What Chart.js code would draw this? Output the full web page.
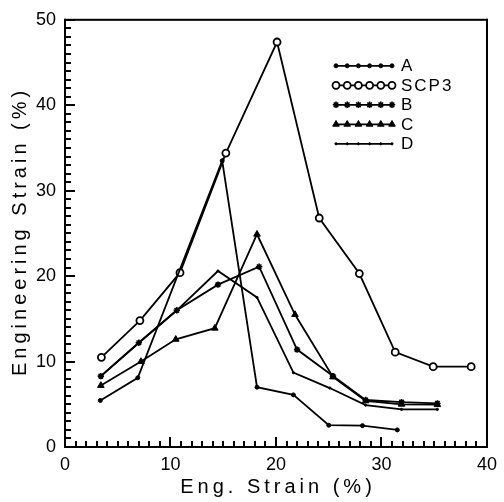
<!DOCTYPE html>
<html><head><meta charset="utf-8">
<style>html,body{margin:0;padding:0;background:#fff;}</style>
<script src="https://cdn.jsdelivr.net/npm/chart.js@4.4.1/dist/chart.umd.min.js"></script>
</head><body>
<canvas id="c" width="504" height="502"></canvas>
<script>
// ---- data ----
const seriesNames = ['A', 'SCP3', 'B', 'C', 'D'];

const aX = [3.35, 6.9, 14.9, 18.2, 21.65, 25.0, 28.2, 31.5];
const aY = [5.45, 8.1, 33.5, 7.0, 6.1, 2.55, 2.5, 2.0];

const scpX = [3.45, 7.1, 10.9, 15.25, 20.1, 24.1, 27.9, 31.3, 34.9, 38.5];
const scpY = [10.5, 14.8, 20.4, 34.4, 47.4, 26.8, 20.3, 11.1, 9.4, 9.4];

const bX = [3.4, 7.0, 10.6, 14.5, 18.4, 22.0, 25.4, 28.5, 31.9, 35.3];
const bY = [8.3, 12.2, 16.0, 19.0, 21.1, 11.4, 8.3, 5.5, 5.25, 5.1];

const cX = [3.4, 7.2, 10.5, 14.2, 18.2, 21.8, 25.4, 28.5, 31.9, 35.3];
const cY = [7.2, 10.0, 12.6, 13.9, 24.9, 15.5, 8.2, 5.4, 5.0, 4.95];

const dX = [3.4, 7.0, 10.6, 14.5, 18.2, 21.65, 25.1, 28.5, 31.9, 35.3];
const dY = [8.3, 12.2, 16.0, 20.6, 17.5, 8.7, 6.9, 4.9, 4.4, 4.4];

const xTickLabels = [0, 10, 20, 30, 40];
const yTickLabels = [0, 10, 20, 30, 40, 50];
const xRange = [0, 40];
const yRange = [0, 50];
const xTitle = 'Eng. Strain (%)';
const yTitle = 'Engineering Strain (%)';

const toPoints = (px, py) => px.map((x, i) => ({x: x, y: py[i]}));
const FONT = '"Liberation Sans", Arial, sans-serif';

const markerStyles = [
  {pointStyle: 'circle', pointRadius: 2, pointBackgroundColor: '#000', pointBorderWidth: 1},
  {pointStyle: 'circle', pointRadius: 3.5, pointBackgroundColor: '#fff', pointBorderWidth: 1.8},
  {pointStyle: 'star', pointRadius: 3.2, pointBackgroundColor: '#000', pointBorderWidth: 1.6},
  {pointStyle: 'triangle', pointRadius: 3.8, pointBackgroundColor: '#000', pointBorderWidth: 1},
  {pointStyle: 'circle', pointRadius: 1.1, pointBackgroundColor: '#000', pointBorderWidth: 1}
];
const seriesPoints = [toPoints(aX, aY), toPoints(scpX, scpY), toPoints(bX, bY), toPoints(cX, cY), toPoints(dX, dY)];

const chartDatasets = seriesNames.map((n, i) => Object.assign({
  label: n,
  data: seriesPoints[i],
  showLine: true,
  borderColor: '#000',
  borderWidth: 1.8,
  pointBorderColor: '#000',
  tension: 0
}, markerStyles[i]));

function pixelOf(scale, v, lo, hi, start, end) {
  let p = scale.getPixelForValue(v);
  if (!isFinite(p)) p = start + (v - lo) / (hi - lo) * (end - start);
  return Math.round(p);
}

const axesPlugin = {
  id: 'axesFrame',
  afterDraw(chart) {
    const ctx = chart.ctx, a = chart.chartArea, sx = chart.scales.x, sy = chart.scales.y;
    ctx.save();
    ctx.globalAlpha = 1;
    ctx.globalCompositeOperation = 'source-over';
    ctx.fillStyle = '#000';
    // inward tick marks, one per unit, longer at the labelled values
    for (let v = xRange[0]; v <= xRange[1]; v++) {
      const px = pixelOf(sx, v, xRange[0], xRange[1], a.left, a.right);
      const tl = (v % 10 === 0) ? 10 : 6;
      ctx.fillRect(px - 1, a.bottom - tl, 2, tl);
    }
    for (let v = yRange[0]; v <= yRange[1]; v++) {
      const py = pixelOf(sy, v, yRange[0], yRange[1], a.bottom, a.top);
      const tl = (v % 10 === 0) ? 10 : 6;
      ctx.fillRect(a.left, py - 1, tl, 2);
    }
    // box
    ctx.fillRect(a.left - 1, a.top - 1, a.right - a.left + 2, 2);
    ctx.fillRect(a.left - 1, a.bottom - 1, a.right - a.left + 2, 2);
    ctx.fillRect(a.left - 1, a.top - 1, 2, a.bottom - a.top + 2);
    ctx.fillRect(a.right - 1, a.top - 1, 2, a.bottom - a.top + 2);
    ctx.restore();

    // axis titles (letter-spaced like the original)
    ctx.save();
    ctx.fillStyle = '#000';
    ctx.font = '20px ' + FONT;
    ctx.letterSpacing = '4px';
    ctx.textAlign = 'center';
    ctx.textBaseline = 'middle';
    ctx.fillText(xTitle, (a.left + a.right) / 2 + 2, 487);
    ctx.translate(20, (a.top + a.bottom) / 2);
    ctx.rotate(-Math.PI / 2);
    ctx.fillText(yTitle, 2, 0);
    ctx.restore();
  }
};

function drawMarker(ctx, st, x, y) {
  const opts = {pointStyle: st.pointStyle, radius: st.pointRadius, rotation: 0, borderWidth: st.pointBorderWidth};
  ctx.fillStyle = st.pointBackgroundColor;
  ctx.strokeStyle = '#000';
  ctx.lineWidth = st.pointBorderWidth;
  if (Chart.helpers && Chart.helpers.drawPoint) {
    Chart.helpers.drawPoint(ctx, opts, x, y);
  } else {
    ctx.beginPath(); ctx.arc(x, y, st.pointRadius, 0, Math.PI * 2); ctx.fill(); ctx.stroke();
  }
}

const legendPlugin = {
  id: 'innerLegend',
  afterDraw(chart) {
    const ctx = chart.ctx, a = chart.chartArea;
    const x0 = a.left + 271, x1 = x0 + 56, tx = x0 + 65;
    ctx.save();
    ctx.letterSpacing = '2px';
    seriesNames.forEach((n, i) => {
      const y = a.top + 46 + i * 19.5;
      ctx.strokeStyle = '#000';
      ctx.lineWidth = 1.8;
      ctx.beginPath(); ctx.moveTo(x0, y); ctx.lineTo(x1, y); ctx.stroke();
      for (let k = 0; k <= 5; k++) drawMarker(ctx, markerStyles[i], x0 + k * (x1 - x0) / 5, y);
      ctx.fillStyle = '#000';
      ctx.font = '17px ' + FONT;
      ctx.textBaseline = 'middle';
      ctx.textAlign = 'left';
      ctx.fillText(n, tx, y + 1);
    });
    ctx.restore();
  }
};

new Chart(document.getElementById('c'), {
  type: 'scatter',
  data: {datasets: chartDatasets},
  plugins: [axesPlugin, legendPlugin],
  options: {
    responsive: false,
    animation: false,
    devicePixelRatio: 1,
    layout: {padding: {top: 14, right: 11, left: 0, bottom: 0}},
    plugins: {legend: {display: false}, tooltip: {enabled: false}},
    scales: {
      x: {
        type: 'linear', min: xRange[0], max: xRange[1], position: 'bottom',
        afterFit: s => { s.height = 55; },
        afterBuildTicks: s => { s.ticks = xTickLabels.map(v => ({value: v})); },
        grid: {display: false, drawTicks: false},
        border: {display: false},
        ticks: {padding: 7, color: '#000', font: {family: FONT, size: 18}, maxRotation: 0, autoSkip: false},
        title: {display: false, text: xTitle}
      },
      y: {
        type: 'linear', min: yRange[0], max: yRange[1], position: 'left',
        afterFit: s => { s.width = 65; },
        afterBuildTicks: s => { s.ticks = yTickLabels.map(v => ({value: v})); },
        grid: {display: false, drawTicks: false},
        border: {display: false},
        ticks: {padding: 9, color: '#000', font: {family: FONT, size: 18}, autoSkip: false},
        title: {display: false, text: yTitle}
      }
    }
  }
});
</script>
</body></html>
